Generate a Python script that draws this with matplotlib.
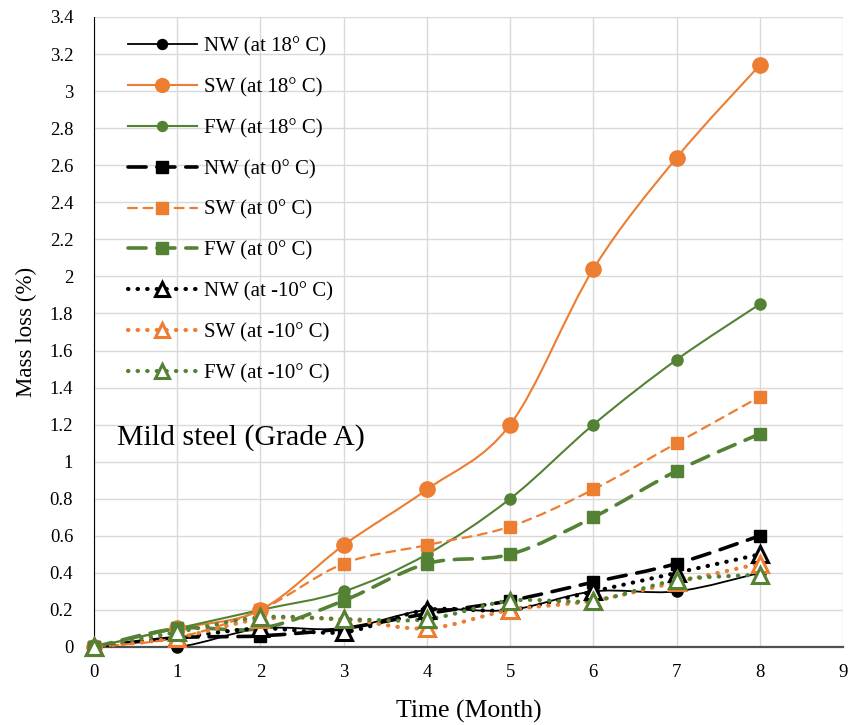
import numpy as np
import matplotlib
matplotlib.use('Agg')
import matplotlib.pyplot as plt
from matplotlib.path import Path
from matplotlib.patches import PathPatch
from matplotlib.lines import Line2D

plt.rcParams['font.family'] = ['Liberation Serif', 'DejaVu Serif']

months = [0, 1, 2, 3, 4, 5, 6, 7, 8]

nw_18 = [0, 0.0, 0.1, 0.1, 0.2, 0.2, 0.3, 0.3, 0.4]
sw_18 = [0, 0.1, 0.2, 0.55, 0.85, 1.2, 2.04, 2.64, 3.14]
fw_18 = [0, 0.1, 0.2, 0.3, 0.5, 0.8, 1.2, 1.55, 1.85]
nw_0 = [0, 0.05, 0.06, 0.1, 0.18, 0.25, 0.35, 0.45, 0.6]
sw_0 = [0, 0.05, 0.2, 0.45, 0.55, 0.65, 0.85, 1.1, 1.35]
fw_0 = [0, 0.1, 0.1, 0.25, 0.45, 0.5, 0.7, 0.95, 1.15]
nw_m10 = [0, 0.05, 0.1, 0.08, 0.2, 0.2, 0.3, 0.4, 0.5]
sw_m10 = [0, 0.05, 0.15, 0.15, 0.1, 0.2, 0.25, 0.35, 0.45]
fw_m10 = [0, 0.08, 0.16, 0.15, 0.15, 0.25, 0.25, 0.36, 0.39]

labels = ['NW (at 18° C)', 'SW (at 18° C)', 'FW (at 18° C)',
          'NW (at 0° C)', 'SW (at 0° C)', 'FW (at 0° C)',
          'NW (at -10° C)', 'SW (at -10° C)', 'FW (at -10° C)']

BLACK = '#000000'
ORANGE = '#ED7D31'
GREEN = '#548235'

# style per series: color, linestyle, linewidth, marker, markersize, filled
styles = [
    (BLACK, '-', 1.3, 'o', 8, True),
    (ORANGE, '-', 1.5, 'o', 11, True),
    (GREEN, '-', 1.5, 'o', 8, True),
    (BLACK, (0, (5, 3)), 2.6, 's', 9, True),
    (ORANGE, (0, (4, 3)), 1.6, 's', 9, True),
    (GREEN, (0, (5, 3)), 2.6, 's', 9, True),
    (BLACK, (0, (0.1, 2.2)), 3.0, '^', 11, False),
    (ORANGE, (0, (0.1, 2.2)), 3.0, '^', 11, False),
    (GREEN, (0, (0.1, 2.2)), 3.0, '^', 11, False),
]
series = [nw_18, sw_18, fw_18, nw_0, sw_0, fw_0, nw_m10, sw_m10, fw_m10]


def smooth_path(x, y):
    # Excel-like smoothed line: cubic Bezier through the points
    x = np.asarray(x, float)
    y = np.asarray(y, float)
    verts = [(x[0], y[0])]
    codes = [Path.MOVETO]
    n = len(x)
    for i in range(n - 1):
        p0 = np.array([x[max(i - 1, 0)], y[max(i - 1, 0)]])
        p1 = np.array([x[i], y[i]])
        p2 = np.array([x[i + 1], y[i + 1]])
        p3 = np.array([x[min(i + 2, n - 1)], y[min(i + 2, n - 1)]])
        c1 = p1 + (p2 - p0) / 6.0
        c2 = p2 - (p3 - p1) / 6.0
        verts += [tuple(c1), tuple(c2), tuple(p2)]
        codes += [Path.CURVE4] * 3
    return Path(verts, codes)


fig = plt.figure(figsize=(8.51, 7.25), dpi=100)
ax = fig.add_axes([0.1105, 0.1076, 0.8801, 0.869])

handles = []
for vals, lab, (c, ls, lw, m, ms, filled) in zip(series, labels, styles):
    patch = PathPatch(smooth_path(months, vals), facecolor='none', edgecolor=c,
                      linewidth=lw, linestyle=ls, capstyle='round', zorder=3)
    ax.add_patch(patch)
    fc = c if filled else 'white'
    mew = 1.0 if filled else 2.2
    ax.plot(months, vals, linestyle='none', marker=m, markersize=ms,
            markerfacecolor=fc, markeredgecolor=c, markeredgewidth=mew,
            zorder=4, clip_on=False)
    handles.append(Line2D([], [], color=c, linestyle=ls, linewidth=lw, marker=m,
                          markersize=ms * 0.9, markerfacecolor=fc, markeredgecolor=c,
                          markeredgewidth=mew, dash_capstyle='round', label=lab))

ax.set_xlim(0, 9)
ax.set_ylim(0, 3.4)
ax.set_xticks(range(0, 10))
yt = np.round(np.arange(0, 3.41, 0.2), 1)
ax.set_yticks(yt)
ax.set_yticklabels([('%g' % v) for v in yt])
ax.grid(True, color='#D9D9D9', linewidth=1.0)
ax.set_axisbelow(True)
for s in ['top', 'right']:
    ax.spines[s].set_visible(False)
ax.spines['left'].set_color('#000000')
ax.spines['bottom'].set_color('#505050')
ax.spines['bottom'].set_linewidth(1.6)
ax.tick_params(axis='both', labelsize=13.5, length=0)
ax.tick_params(axis='y', pad=15)
ax.tick_params(axis='x', pad=12)

ax.set_xlabel('Time (Month)', fontsize=18.5, labelpad=14)
ax.set_ylabel('Mass loss (%)', fontsize=16.5, labelpad=9)

ax.text(0.27, 1.13, 'Mild steel (Grade A)', fontsize=21.5, va='center', ha='left')

leg = ax.legend(handles=handles, loc='upper left', bbox_to_anchor=(0.02, 0.998),
                frameon=False, fontsize=15, handlelength=3.3, labelspacing=1.02,
                handletextpad=0.35)

fig.savefig('out.png', dpi=100)
